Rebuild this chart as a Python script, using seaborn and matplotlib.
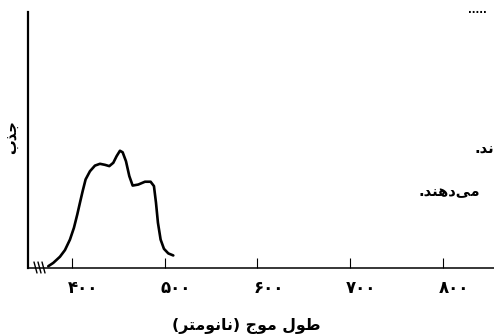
import numpy as np
import matplotlib
matplotlib.use("Agg")
import matplotlib.pyplot as plt
import matplotlib.transforms as mtransforms
from matplotlib.lines import Line2D
import seaborn as sns

# absorption spectrum (wavelength in nm, absorbance in axis fraction)
wavelength = [374.1, 379.5, 386.7, 392.1, 397.5, 401.8, 405.4, 408.3, 411.2, 414.4,
              419.1, 424.5, 429.9, 435.3, 440.0, 444.3, 447.9, 451.5, 454.4, 458.0,
              461.6, 465.2, 471.3, 478.5, 484.6, 488.2, 490.4, 492.5, 495.4, 499.0,
              503.7, 509.1]
absorbance = [0.007, 0.020, 0.044, 0.070, 0.111, 0.157, 0.209, 0.255, 0.300, 0.346,
              0.378, 0.400, 0.407, 0.403, 0.398, 0.411, 0.437, 0.458, 0.452, 0.417,
              0.359, 0.322, 0.326, 0.337, 0.337, 0.320, 0.255, 0.177, 0.111, 0.075,
              0.057, 0.049]

tick_values = [400, 500, 600, 700, 800]
tick_labels = ["۴۰۰", "۵۰۰", "۶۰۰", "۷۰۰", "۸۰۰"]
x_label = "طول موج (نانومتر)"
y_label = "جذب"
side_text_1 = "ند."
side_text_2 = "می‌دهند."
side_dots = "....."

# matplotlib has no arabic shaping: convert to presentation forms and reverse
FORMS = {
    "ا": ("\uFE8D", "\uFE8E"),
    "ب": ("\uFE8F", "\uFE90", "\uFE91", "\uFE92"),
    "ت": ("\uFE95", "\uFE96", "\uFE97", "\uFE98"),
    "ج": ("\uFE9D", "\uFE9E", "\uFE9F", "\uFEA0"),
    "د": ("\uFEA9", "\uFEAA"),
    "ذ": ("\uFEAB", "\uFEAC"),
    "ر": ("\uFEAD", "\uFEAE"),
    "ط": ("\uFEC1", "\uFEC2", "\uFEC3", "\uFEC4"),
    "ل": ("\uFEDD", "\uFEDE", "\uFEDF", "\uFEE0"),
    "م": ("\uFEE1", "\uFEE2", "\uFEE3", "\uFEE4"),
    "ن": ("\uFEE5", "\uFEE6", "\uFEE7", "\uFEE8"),
    "ه": ("\uFEE9", "\uFEEA", "\uFEEB", "\uFEEC"),
    "و": ("\uFEED", "\uFEEE"),
    "ی": ("\uFEEF", "\uFEF0", "\uFEF3", "\uFEF4"),
}


def shape(s):
    out = []
    for i, c in enumerate(s):
        if c not in FORMS:
            if c != "\u200c":
                out.append(c)
            continue
        prev = s[i - 1] if i > 0 else ""
        nxt = s[i + 1] if i + 1 < len(s) else ""
        join_prev = prev in FORMS and len(FORMS[prev]) == 4
        join_next = len(FORMS[c]) == 4 and nxt in FORMS
        f = FORMS[c]
        if join_prev and join_next:
            out.append(f[3])
        elif join_prev:
            out.append(f[1])
        elif join_next:
            out.append(f[2])
        else:
            out.append(f[0])
    vis = "".join(reversed(out))
    return vis.translate(str.maketrans("()", ")("))


sns.set_style("ticks")
plt.rcParams["font.family"] = ["DejaVu Sans"]
plt.rcParams["font.weight"] = "bold"
plt.rcParams["text.color"] = "black"
plt.rcParams["axes.labelcolor"] = "black"
plt.rcParams["xtick.color"] = "black"

fig = plt.figure(figsize=(4.94, 3.36), dpi=100)
ax = fig.add_axes([28 / 494, 68 / 336, 1 - 28 / 494, 256 / 336])

sns.lineplot(x=wavelength, y=absorbance, ax=ax, color="black", linewidth=1.9)

ax.set_xlim(352.2, 855.4)
ax.set_ylim(0, 1)
sns.despine(ax=ax)
ax.spines["left"].set_linewidth(1.6)
ax.spines["bottom"].set_linewidth(1.1)
ax.spines["left"].set_color("black")
ax.spines["bottom"].set_color("black")

ax.set_yticks([])
ax.set_xticks(tick_values, tick_labels)
ax.tick_params(axis="x", direction="in", length=7.5, width=0.8, color="black",
               labelcolor="black", pad=8, labelsize=12)
offset = mtransforms.ScaledTranslation(-4 / 100, 0, fig.dpi_scale_trans)
for lab in ax.get_xticklabels():
    lab.set_horizontalalignment("left")
    lab.set_fontweight("bold")
    lab.set_transform(lab.get_transform() + offset)

ax.set_xlabel(shape(x_label), fontsize=11.3, fontweight="bold", va="center",
              color="black")
ax.xaxis.set_label_coords(0.468, -0.227)
ax.set_ylabel(shape(y_label), fontsize=10.5, fontweight="bold", va="center",
              color="black")
ax.yaxis.set_label_coords(-0.034, 0.512)

# axis break marks
for bx in (34, 38, 42):
    fig.add_artist(Line2D([bx / 494, (bx + 3) / 494], [1 - 262 / 336, 1 - 273 / 336],
                          color="black", linewidth=1.0))

# text fragments cut at the right edge
fig.text(468 / 494, 1 - 10 / 336, side_dots, fontsize=7, fontweight="bold",
         ha="left", va="center", color="black")
fig.text(474 / 494, 1 - 149 / 336, shape(side_text_1), fontsize=10.5,
         fontweight="bold", ha="left", va="center", color="black")
fig.text(418 / 494, 1 - 192 / 336, shape(side_text_2), fontsize=10.5,
         fontweight="bold", ha="left", va="center", color="black")

fig.savefig("out.png", dpi=100)
